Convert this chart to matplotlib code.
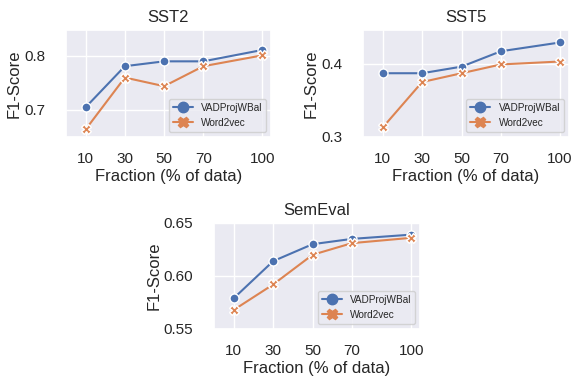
import matplotlib
matplotlib.use("Agg")
import matplotlib.pyplot as plt
from matplotlib.lines import Line2D
import seaborn as sns

sns.set()  # darkgrid, notebook context
plt.rcParams['font.family'] = ['Liberation Sans', 'DejaVu Sans']

fractions = [10, 30, 50, 70, 100]

sst2_vad = [0.705, 0.781, 0.790, 0.790, 0.811]
sst2_w2v = [0.664, 0.760, 0.744, 0.781, 0.801]
sst5_vad = [0.387, 0.387, 0.396, 0.417, 0.429]
sst5_w2v = [0.313, 0.375, 0.387, 0.399, 0.403]
semeval_vad = [0.579, 0.614, 0.630, 0.635, 0.639]
semeval_w2v = [0.568, 0.592, 0.620, 0.631, 0.636]

colors = sns.color_palette("deep")

fig = plt.figure(figsize=(5.73, 3.83), dpi=100)
ax1 = fig.add_axes([0.1152, 0.6423, 0.3578, 0.2794])
ax2 = fig.add_axes([0.6335, 0.6423, 0.3595, 0.2794])
ax3 = fig.add_axes([0.3735, 0.1410, 0.3595, 0.2768])

handles = [
    Line2D([], [], color=colors[0], marker="o", markersize=7.5, linewidth=1.5,
           label="VADProjWBal"),
    Line2D([], [], color=colors[1], marker="X", markersize=7.5, linewidth=1.5,
           label="Word2vec"),
]


def draw(ax, vad, w2v, title, ylim, yticks, fmt):
    ax.plot(fractions, vad, marker="o", color=colors[0], markeredgecolor="white",
            markersize=6.5, linewidth=1.5)
    ax.plot(fractions, w2v, marker="X", color=colors[1], markeredgecolor="white",
            markersize=6.5, linewidth=1.5)
    ax.set_title(title, fontsize=12)
    ax.set_xlabel("Fraction (% of data)", fontsize=12, labelpad=2)
    ax.set_ylabel("F1-Score", fontsize=12, labelpad=1.5)
    ax.set_xticks(fractions)
    ax.set_xlim(0, 104.5)
    ax.set_ylim(*ylim)
    ax.set_yticks(yticks)
    ax.set_yticklabels([fmt.format(v) for v in yticks])
    ax.tick_params(axis="x", labelsize=11, pad=5)
    ax.tick_params(axis="y", labelsize=11, pad=9)
    ax.legend(handles=handles, loc="lower right", fontsize=7.2)


draw(ax1, sst2_vad, sst2_w2v, "SST2", (0.65, 0.848), [0.7, 0.8], "{:.1f}")
draw(ax2, sst5_vad, sst5_w2v, "SST5", (0.3, 0.446), [0.3, 0.4], "{:.1f}")
draw(ax3, semeval_vad, semeval_w2v, "SemEval", (0.55, 0.65), [0.55, 0.60, 0.65], "{:.2f}")

fig.savefig("out.png", dpi=100)
